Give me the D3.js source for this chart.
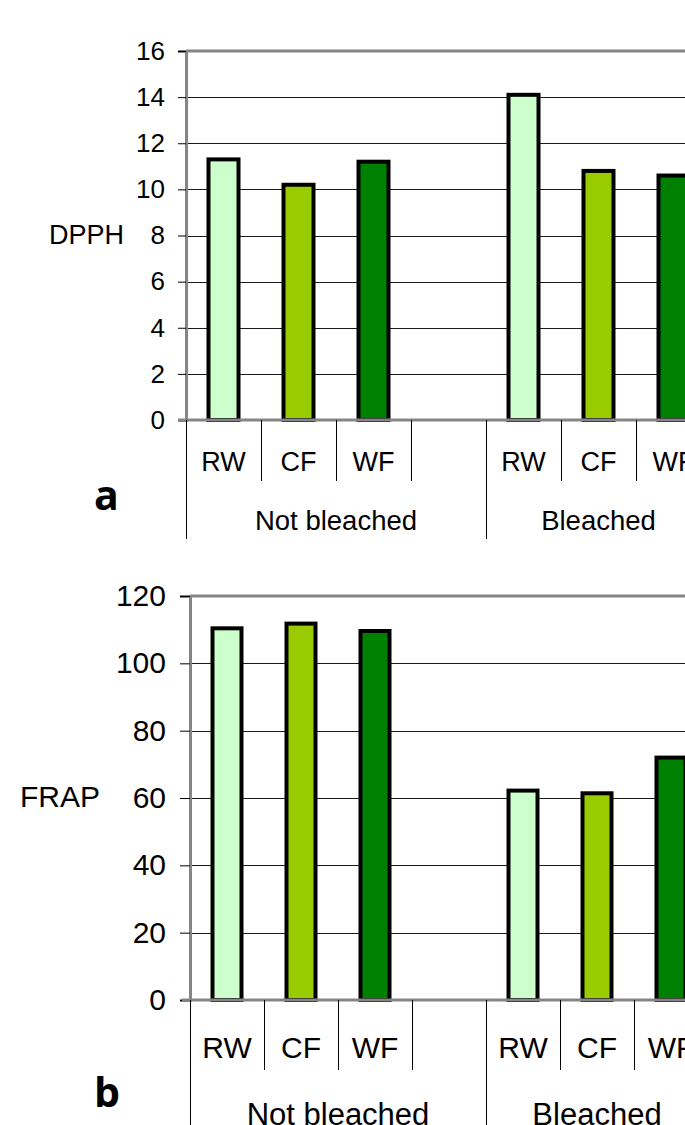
<!DOCTYPE html>
<html>
<head>
<meta charset="utf-8">
<script src="https://cdn.jsdelivr.net/npm/d3@7"></script>
<style>
  html, body { margin: 0; padding: 0; background: #fff; overflow: hidden; }
  svg { display: block; }
  text { font-family: "Liberation Sans", Arial, sans-serif; fill: #000; }
</style>
</head>
<body>
<svg id="chart" width="685" height="1125"></svg>
<script>
// ---- data ----
const groups = ["Not bleached", "Bleached"];
const categories = ["RW", "CF", "WF"];
const seriesColors = ["#CCFFCC", "#99CC00", "#008000"];
const dpphNotBleached = [11.3, 10.2, 11.2];
const dpphBleached = [14.1, 10.8, 10.6];
const frapNotBleached = [110.4, 111.8, 109.6];
const frapBleached = [62.2, 61.4, 72.0];
const dpphTicks = [0, 2, 4, 6, 8, 10, 12, 14, 16];
const frapTicks = [0, 20, 40, 60, 80, 100, 120];

// slots: Not bleached RW, CF, WF, (blank), Bleached RW, CF, WF
const slotKeys = ["NB-RW", "NB-CF", "NB-WF", "NB-blank", "B-RW", "B-CF", "B-WF"];
const slotLabels = ["RW", "CF", "WF", "", "RW", "CF", "WF"];
const groupSlots = [["NB-RW", "NB-blank"], ["B-RW", "B-WF"]];

function buildRows(nb, b) {
  const rows = [];
  categories.forEach((c, i) => rows.push({ key: "NB-" + c, cat: i, value: nb[i] }));
  categories.forEach((c, i) => rows.push({ key: "B-" + c, cat: i, value: b[i] }));
  return rows;
}

const svg = d3.select("#chart");

function panel(opts) {
  const g = svg.append("g");
  const x = d3.scaleBand().domain(slotKeys).range([opts.left, opts.right]).paddingInner(0).paddingOuter(0);
  const y = d3.scaleLinear().domain([0, opts.max]).range([opts.bottom, opts.top]);
  const rows = buildRows(opts.nb, opts.b);

  // gridlines
  g.append("g").selectAll("line").data(opts.ticks.filter(t => t > 0 && t < opts.max)).join("line")
    .attr("x1", opts.left).attr("x2", opts.right)
    .attr("y1", d => Math.round(y(d)) + 0.5).attr("y2", d => Math.round(y(d)) + 0.5)
    .attr("stroke", "#1a1a1a").attr("stroke-width", 1);

  // plot area border (top)
  g.append("line").attr("x1", opts.left).attr("x2", opts.right)
    .attr("y1", y(opts.max)).attr("y2", y(opts.max))
    .attr("stroke", "#858585").attr("stroke-width", 3);

  // y axis
  const yAxis = d3.axisLeft(y).tickValues(opts.ticks).tickSize(opts.tickLen).tickPadding(opts.tickPad);
  const ya = g.append("g").attr("transform", `translate(${opts.left},0)`).call(yAxis);
  ya.select(".domain").attr("stroke", "#858585").attr("stroke-width", 3);
  ya.selectAll(".tick line").attr("stroke", "#000").attr("stroke-width", 1);
  ya.selectAll(".tick text").style("font-size", opts.tickFont + "px")
    .style("font-family", "'Liberation Sans', Arial, sans-serif").attr("fill", "#000");

  // bars
  const bw = opts.barW;
  g.append("g").selectAll("rect").data(rows).join("rect")
    .attr("x", d => x(d.key) + x.bandwidth() / 2 - bw / 2)
    .attr("width", bw)
    .attr("y", d => y(d.value))
    .attr("height", d => y(0) - y(d.value))
    .attr("fill", d => seriesColors[d.cat])
    .attr("stroke", "#000").attr("stroke-width", 4);

  // baseline (x axis)
  g.append("line").attr("x1", opts.left - 8).attr("x2", opts.right)
    .attr("y1", y(0)).attr("y2", y(0))
    .attr("stroke", "#858585").attr("stroke-width", 3);

  // category separators
  const bounds = slotKeys.map(k => x(k)).concat([opts.right]);
  const longIdx = new Set([0, 4, 7]);
  g.append("g").selectAll("line").data(bounds.map((b, i) => ({ b, i }))).join("line")
    .attr("x1", d => Math.round(d.b) + 0.5).attr("x2", d => Math.round(d.b) + 0.5)
    .attr("y1", y(0))
    .attr("y2", d => longIdx.has(d.i) ? opts.longEnd : opts.shortEnd)
    .attr("stroke", "#000").attr("stroke-width", 1);

  // category labels
  g.append("g").selectAll("text").data(slotKeys.map((k, i) => ({ k, label: slotLabels[i] })).filter(d => d.label)).join("text")
    .attr("x", d => x(d.k) + x.bandwidth() / 2)
    .attr("y", opts.catBase)
    .attr("text-anchor", "middle")
    .style("font-size", opts.catFont + "px")
    .text(d => d.label);

  // group labels
  g.append("g").selectAll("text").data(groups.map((name, i) => ({ name, s: groupSlots[i] }))).join("text")
    .attr("x", d => (x(d.s[0]) + x(d.s[1]) + x.bandwidth()) / 2)
    .attr("y", opts.groupBase)
    .attr("text-anchor", "middle")
    .style("font-size", opts.groupFont + "px")
    .text(d => d.name);

  // y title
  g.append("text").attr("x", opts.titleX).attr("y", opts.titleY)
    .style("font-size", opts.titleFont + "px").text(opts.title);

  // panel letter
  g.append("text").attr("x", opts.letterX).attr("y", opts.letterY)
    .style("font-family", "'Open Sans', sans-serif").style("font-weight", 700)
    .style("font-size", "41px").text(opts.letter);
}

panel({
  nb: dpphNotBleached, b: dpphBleached, max: 16, ticks: dpphTicks,
  left: 186, right: 711, top: 51, bottom: 420,
  tickLen: 8, tickPad: 13, tickFont: 26, barW: 30,
  shortEnd: 481, longEnd: 539,
  catBase: 471, catFont: 27, groupBase: 530, groupFont: 27.5,
  title: "DPPH", titleX: 49, titleY: 244, titleFont: 27,
  letter: "a", letterX: 94, letterY: 510
});

panel({
  nb: frapNotBleached, b: frapBleached, max: 120, ticks: frapTicks,
  left: 190, right: 708, top: 596, bottom: 1000,
  tickLen: 10, tickPad: 14, tickFont: 30, barW: 29,
  shortEnd: 1070, longEnd: 1130,
  catBase: 1058, catFont: 30, groupBase: 1125, groupFont: 31,
  title: "FRAP", titleX: 20, titleY: 807, titleFont: 30,
  letter: "b", letterX: 94, letterY: 1107
});
</script>
</body>
</html>
